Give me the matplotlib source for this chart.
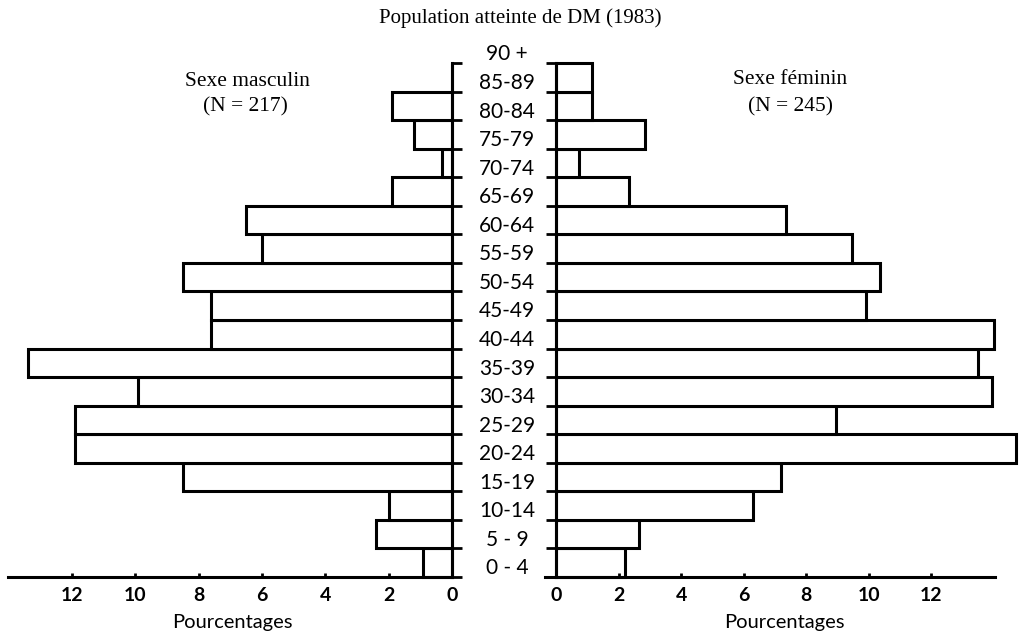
import matplotlib.pyplot as plt
from matplotlib.transforms import blended_transform_factory

# tranches d'age (0-4 en bas) ; 90 + n'a pas de barre
ages = ["0 - 4", "5 - 9", "10-14", "15-19", "20-24", "25-29", "30-34", "35-39",
        "40-44", "45-49", "50-54", "55-59", "60-64", "65-69", "70-74", "75-79",
        "80-84", "85-89", "90 +"]
hommes = [0.9, 2.4, 2.0, 8.5, 11.9, 11.9, 9.9, 13.4, 7.6, 7.6, 8.5, 6.0, 6.5,
          1.9, 0.3, 1.2, 1.9, 0.0]
femmes = [2.2, 2.65, 6.3, 7.2, 14.7, 8.95, 13.95, 13.5, 14.0, 9.9, 10.35, 9.45,
          7.35, 2.35, 0.75, 2.85, 1.15, 1.15]
graduations = [0, 2, 4, 6, 8, 10, 12]

W, H = 1024, 636
serif = "Liberation Serif"
sans = "Lato"

fig = plt.figure(figsize=(W / 100, H / 100), dpi=100)
fig.patch.set_facecolor("white")

bas, haut = 577, 63
ax_h = fig.add_axes([8 / W, (H - bas) / H, (452 - 8) / W, (bas - haut) / H])
ax_f = fig.add_axes([545 / W, (H - bas) / H, (995 - 545) / W, (bas - haut) / H])

n = len(hommes)
pos = list(range(n))

ax_h.barh(pos, hommes, height=1, align="edge", color="white",
          edgecolor="black", linewidth=2.2, clip_on=False)
ax_f.barh(pos, femmes, height=1, align="edge", color="white",
          edgecolor="black", linewidth=2.2, clip_on=False)

ax_h.set_xlim(14.02, 0)
ax_f.set_xlim(-0.35, 14.03)
for ax in (ax_h, ax_f):
    ax.set_ylim(0, n)
    ax.set_yticks(range(n + 1))
    ax.set_yticklabels([])
    ax.spines["top"].set_visible(False)
    ax.spines["bottom"].set_linewidth(2.2)
    ax.set_xticks(graduations)
    ax.set_xticklabels([str(g) for g in graduations], fontsize=14,
                       fontweight="bold", family=sans)
    ax.tick_params(axis="x", direction="in", length=3, width=2, pad=7)
    ax.tick_params(axis="y", direction="out", length=7, width=2)

ax_h.spines["left"].set_visible(False)
ax_h.spines["right"].set_linewidth(2.2)
ax_h.yaxis.tick_right()
ax_f.spines["right"].set_visible(False)
ax_f.spines["left"].set_position(("data", 0))
ax_f.spines["left"].set_linewidth(2.2)

ax_h.text(6.95, -1.6, "Pourcentages", ha="center", va="center",
          fontsize=14.5, family=sans)
ax_f.text(7.3, -1.6, "Pourcentages", ha="center", va="center",
          fontsize=14.5, family=sans)

# etiquettes d'age au milieu
trans = blended_transform_factory(fig.transFigure, ax_h.transData)
for i, lab in enumerate(ages):
    fig.text(507 / W, i + 0.3, lab, transform=trans, ha="center",
             va="center", fontsize=15, family=sans)

fig.text(520 / W, 1 - 18 / H, "Population atteinte de DM (1983)",
         ha="center", va="center", fontsize=15, family=serif)
fig.text(247 / W, 1 - 82 / H, "Sexe masculin", ha="center", va="center",
         fontsize=15.5, family=serif)
fig.text(245 / W, 1 - 107 / H, "(N = 217)", ha="center", va="center",
         fontsize=15.5, family=serif)
fig.text(790 / W, 1 - 80 / H, "Sexe féminin", ha="center", va="center",
         fontsize=15.5, family=serif)
fig.text(790 / W, 1 - 107 / H, "(N = 245)", ha="center", va="center",
         fontsize=15.5, family=serif)

fig.savefig("out.png", dpi=100)
